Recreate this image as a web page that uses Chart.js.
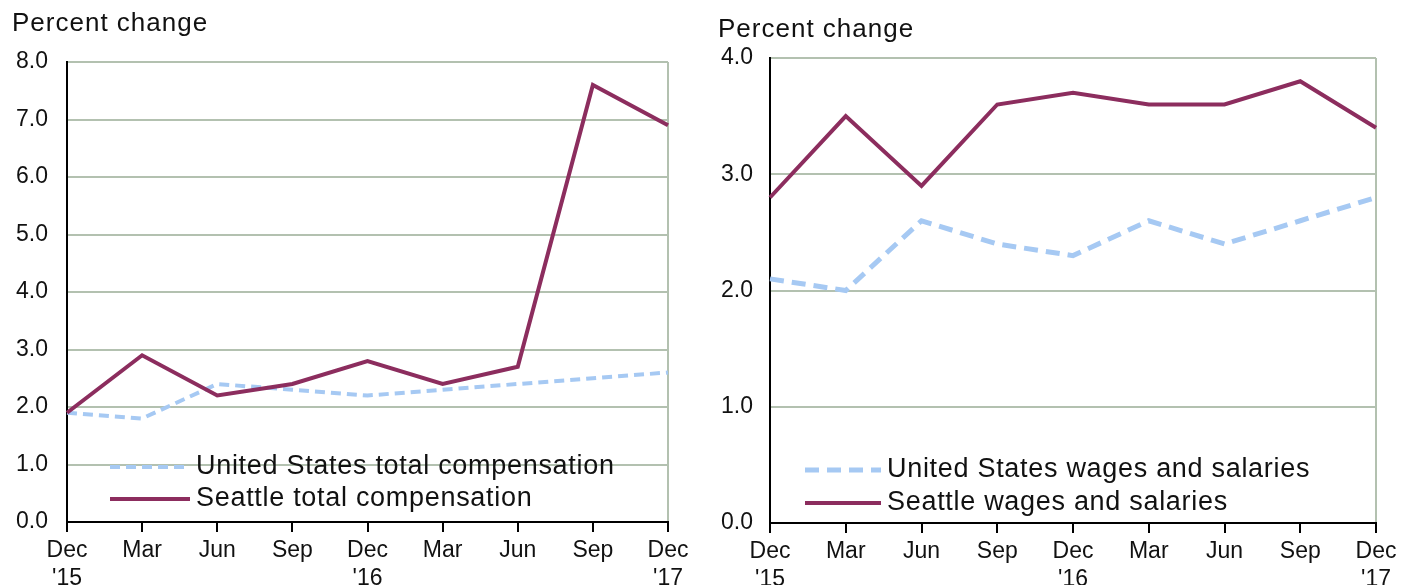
<!DOCTYPE html>
<html lang="en">
<head>
  <meta charset="UTF-8">
  <title>Percent change: United States and Seattle</title>
  <script src="https://cdn.jsdelivr.net/npm/chart.js"></script>
  <style>
    body { margin: 0; background: #fff; }
    .box { position: absolute; top: 0; height: 585px; }
  </style>
</head>
<body>
  <div class="box" style="left:0;width:700px"><canvas id="left" width="700" height="585"></canvas></div>
  <div class="box" style="left:700px;width:703px"><canvas id="right" width="703" height="585"></canvas></div>

  <script>
    // quarters, Dec 2015 - Dec 2017
    const labels = [['Dec', "'15"], ['Mar', ''], ['Jun', ''], ['Sep', ''], ['Dec', "'16"], ['Mar', ''], ['Jun', ''], ['Sep', ''], ['Dec', "'17"]];

    // total compensation (left)
    const usTotal = [1.9, 1.8, 2.4, 2.3, 2.2, 2.3, 2.4, 2.5, 2.6];
    const seattleTotal = [1.9, 2.9, 2.2, 2.4, 2.8, 2.4, 2.7, 7.6, 6.9];

    // wages and salaries (right)
    const usWages = [2.1, 2.0, 2.6, 2.4, 2.3, 2.6, 2.4, 2.6, 2.8];
    const seattleWages = [2.8, 3.5, 2.9, 3.6, 3.7, 3.6, 3.6, 3.8, 3.4];

    const FONT = "'Liberation Sans', Arial, sans-serif";
    const SEATTLE = '#8c2d5e';
    const US = '#a6c9f3';
    const GRID = '#b3c1b0';

    // title + legend drawn inside the canvas
    const overlay = {
      id: 'overlay',
      afterDraw(chart) {
        const o = chart.options.plugins.overlay;
        const ctx = chart.ctx;
        ctx.save();
        ctx.fillStyle = '#111';
        ctx.textBaseline = 'middle';
        ctx.letterSpacing = '1px';
        ctx.font = '26px ' + FONT;
        ctx.fillText('Percent change', o.titleX, o.titleY);

        chart.data.datasets.forEach((ds, i) => {
          const y = o.legendY[i];
          ctx.beginPath();
          ctx.strokeStyle = ds.borderColor;
          ctx.lineWidth = ds.borderWidth;
          ctx.setLineDash(ds.borderDash || []);
          ctx.moveTo(o.legendX, y);
          ctx.lineTo(o.legendX + o.legendLen, y);
          ctx.stroke();
          ctx.setLineDash([]);
          ctx.letterSpacing = '0.7px';
          ctx.font = '27px ' + FONT;
          ctx.fillText(ds.label, o.legendX + o.legendLen + 6, y);
        });
        ctx.restore();
      }
    };

    function makeChart(id, usData, seaData, usName, seaName, yMax, cfg) {
      const last = labels.length - 1;
      return new Chart(document.getElementById(id), {
        type: 'line',
        data: {
          labels: labels,
          datasets: [{
            label: usName,
            data: usData,
            borderColor: US,
            borderWidth: cfg.usWidth,
            borderDash: cfg.dash,
            pointRadius: 0,
            tension: 0,
            order: 1
          }, {
            label: seaName,
            data: seaData,
            borderColor: SEATTLE,
            borderWidth: 4,
            pointRadius: 0,
            tension: 0,
            order: 0
          }]
        },
        options: {
          responsive: false,
          animation: false,
          layout: { padding: { left: 0, top: cfg.top, right: cfg.right, bottom: 0 } },
          plugins: {
            legend: { display: false },
            tooltip: { enabled: false },
            overlay: cfg.overlay
          },
          scales: {
            x: {
              offset: false,
              border: { color: '#000', width: 2 },
              grid: {
                drawOnChartArea: true,
                color: c => c.index === last ? GRID : 'transparent',
                lineWidth: 2,
                tickColor: '#000',
                tickWidth: 2,
                tickLength: 10
              },
              ticks: {
                maxRotation: 0,
                autoSkip: false,
                padding: 4,
                color: '#111',
                font: { family: FONT, size: 23, lineHeight: 1.25 }
              },
              afterFit: s => { s.height = 585 - cfg.bottom; }
            },
            y: {
              min: 0,
              max: yMax,
              border: { color: '#000', width: 2 },
              grid: {
                color: c => c.tick.value === 0 ? 'transparent' : GRID,
                lineWidth: 2,
                drawTicks: false
              },
              ticks: {
                stepSize: 1,
                padding: cfg.tickPad,
                color: '#111',
                font: { family: FONT, size: 23 },
                callback: v => v.toFixed(1)
              },
              afterFit: s => { s.width = cfg.left; }
            }
          }
        },
        plugins: [overlay]
      });
    }

    makeChart('left', usTotal, seattleTotal,
      'United States total compensation', 'Seattle total compensation', 8, {
        left: 67, top: 62, right: 32, bottom: 522, tickPad: 19,
        usWidth: 4, dash: [10, 6],
        overlay: { titleX: 12, titleY: 24, legendX: 110, legendLen: 80, legendY: [467, 499] }
      });

    makeChart('right', usWages, seattleWages,
      'United States wages and salaries', 'Seattle wages and salaries', 4, {
        left: 70, top: 58, right: 27, bottom: 523, tickPad: 17,
        usWidth: 5, dash: [14, 8],
        overlay: { titleX: 18, titleY: 30, legendX: 105, legendLen: 76, legendY: [470, 503] }
      });
  </script>
</body>
</html>
